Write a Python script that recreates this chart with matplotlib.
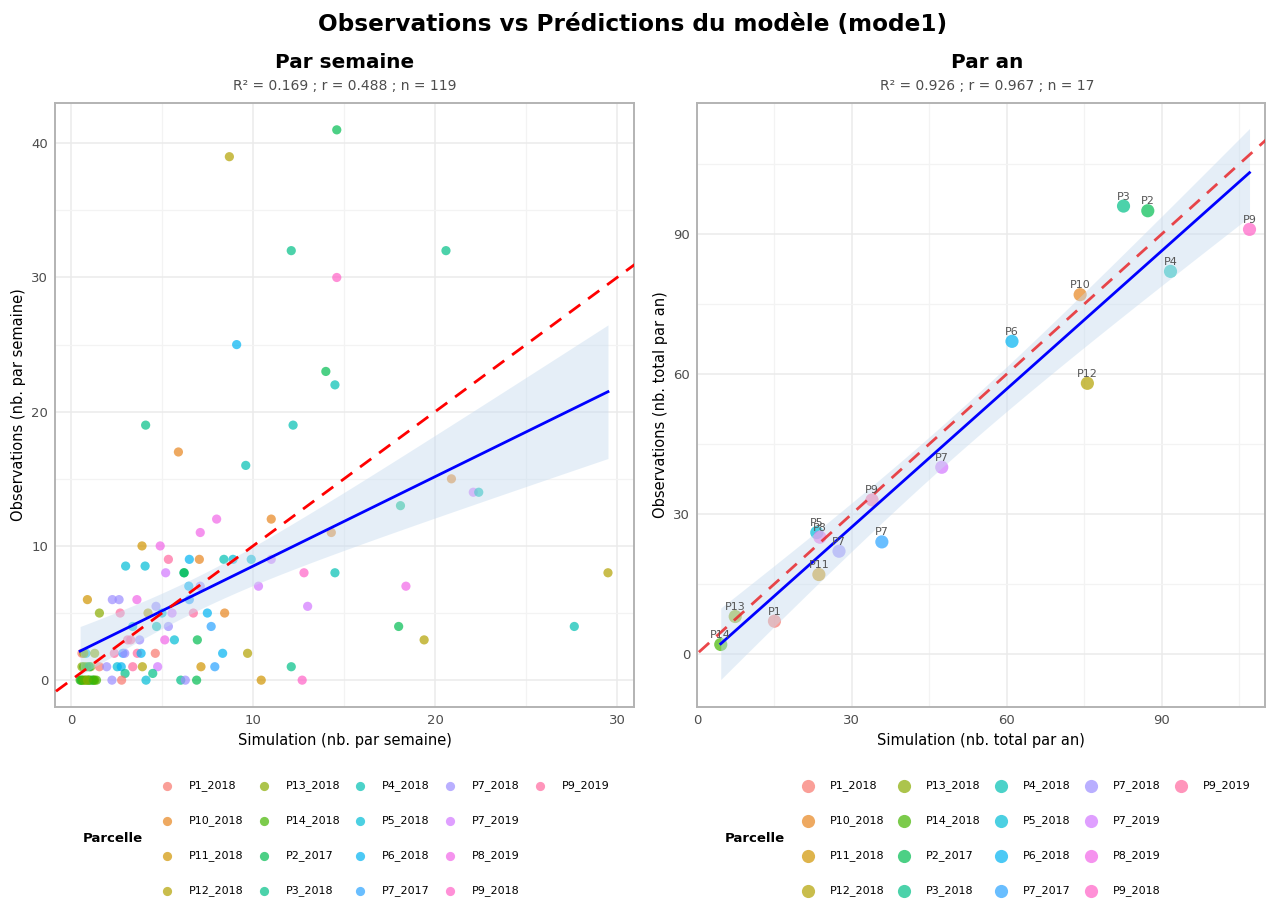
import numpy as np
import matplotlib
matplotlib.use("Agg")
import matplotlib.pyplot as plt

# ---------------- DATA ----------------
categories = ["P1_2018", "P10_2018", "P11_2018", "P12_2018", "P13_2018", "P14_2018",
              "P2_2017", "P3_2018", "P4_2018", "P5_2018", "P6_2018", "P7_2017",
              "P7_2018", "P7_2019", "P8_2019", "P9_2018", "P9_2019"]
palette = ["#F8766D", "#E7851E", "#D09400", "#B2A100", "#89AC00", "#45B500",
           "#00BC51", "#00C087", "#00C0B2", "#00BCD6", "#00B3F2", "#29A3FF",
           "#9C8DFF", "#D277FF", "#F166E8", "#FF61C7", "#FF689E"]

# weekly observations (simulation, observation, parcel)
week_sim = [14.6, 8.7, 12.1, 20.6, 14.6, 9.1, 14.0, 14.5, 4.1, 12.2, 5.9, 9.6, 20.9,
            22.1, 22.4, 18.1, 8.0, 11.0, 7.1, 14.3, 3.9, 4.9,
            5.35, 6.5, 7.05, 8.4, 8.9, 9.9, 11.0, 3.0, 4.07,
            5.2, 6.2, 6.22, 12.8, 14.5, 6.47, 7.1, 10.3, 18.4,
            0.9, 2.27, 2.64, 3.62, 6.5, 4.67, 13.0,
            1.56, 2.7, 4.23, 5.0, 5.55, 6.72, 7.49, 8.44,
            3.39, 4.7, 5.35, 7.7, 18.0, 27.65,
            3.11, 3.28, 3.77, 5.15, 5.68, 6.94, 19.4,
            0.6, 0.82, 1.3, 2.38, 2.85, 2.95, 3.64, 3.85, 4.63, 8.33, 9.7, 0.7,
            0.6, 0.86, 1.08, 1.56, 1.96, 2.54, 2.76, 3.39, 3.92, 4.76, 7.14, 7.9, 12.1, 0.7, 1.0,
            2.97, 4.49,
            0.5, 0.65, 0.8, 0.95, 1.1, 1.3, 2.25, 2.78, 4.12, 6.03, 6.28, 6.9, 10.45, 12.7,
            0.55, 0.75, 1.0, 1.2, 1.4, 0.6, 0.9, 1.25, 29.5]
week_obs = [41, 39, 32, 32, 30, 25, 23, 22, 19, 19, 17, 16, 15,
            14, 14, 13, 12, 12, 11, 11, 10, 10,
            9, 9, 9, 9, 9, 9, 9, 8.5, 8.5,
            8, 8, 8, 8, 8, 7, 7, 7, 7,
            6, 6, 6, 6, 6, 5.5, 5.5,
            5, 5, 5, 5, 5, 5, 5, 5,
            4, 4, 4, 4, 4, 4,
            3, 3, 3, 3, 3, 3, 3,
            2, 2, 2, 2, 2, 2, 2, 2, 2, 2, 2, 2,
            1, 1, 1, 1, 1, 1, 1, 1, 1, 1, 1, 1, 1, 1, 1,
            0.5, 0.5,
            0, 0, 0, 0, 0, 0, 0, 0, 0, 0, 0, 0, 0, 0,
            0, 0, 0, 0, 0, 0, 0, 0, 8]
week_parcel = ["P2_2017", "P12_2018", "P3_2018", "P3_2018", "P9_2018", "P6_2018", "P2_2017",
               "P4_2018", "P3_2018", "P4_2018", "P10_2018", "P4_2018", "P10_2018",
               "P7_2019", "P4_2018", "P3_2018", "P8_2019", "P10_2018", "P8_2019", "P10_2018",
               "P11_2018", "P8_2019",
               "P9_2019", "P6_2018", "P10_2018", "P4_2018", "P5_2018", "P5_2018", "P7_2019",
               "P5_2018", "P5_2018",
               "P7_2019", "P3_2018", "P2_2017", "P9_2018", "P4_2018", "P6_2018", "P7_2018",
               "P7_2019", "P8_2019",
               "P11_2018", "P7_2018", "P7_2018", "P8_2019", "P7_2017", "P7_2018", "P7_2019",
               "P13_2018", "P9_2019", "P12_2018", "P5_2018", "P7_2019", "P9_2019", "P6_2018",
               "P10_2018",
               "P5_2018", "P4_2018", "P7_2018", "P7_2017", "P2_2017", "P4_2018",
               "P9_2019", "P9_2019", "P7_2018", "P8_2019", "P5_2018", "P2_2017", "P12_2018",
               "P1_2018", "P5_2018", "P13_2018", "P9_2019", "P7_2017", "P7_2018", "P9_2019",
               "P6_2018", "P1_2018", "P6_2018", "P12_2018", "P13_2018",
               "P13_2018", "P14_2018", "P13_2018", "P1_2018", "P7_2018", "P5_2018", "P6_2018",
               "P9_2019", "P12_2018", "P7_2019", "P11_2018", "P7_2017", "P3_2018",
               "P14_2018", "P2_2017",
               "P3_2018", "P3_2018",
               "P14_2018", "P13_2018", "P14_2018", "P2_2017", "P14_2018", "P13_2018",
               "P7_2018", "P1_2018", "P5_2018", "P3_2018", "P7_2018", "P2_2017", "P11_2018",
               "P9_2018",
               "P2_2017", "P13_2018", "P14_2018", "P2_2017", "P14_2018", "P14_2018",
               "P13_2018", "P14_2018", "P12_2018"]

# annual totals
year_parcel = ["P1_2018", "P13_2018", "P14_2018", "P11_2018", "P5_2018", "P8_2019",
               "P7_2018", "P7_2017", "P9_2019", "P7_2019", "P6_2018", "P10_2018",
               "P12_2018", "P3_2018", "P2_2017", "P4_2018", "P9_2018"]
year_sim = [15.0, 7.4, 4.6, 23.6, 23.2, 23.8, 27.5, 35.8, 33.9, 47.4, 61.0, 74.2,
            75.6, 82.6, 87.3, 91.7, 107.0]
year_obs = [7, 8, 2, 17, 26, 25, 22, 24, 33, 40, 67, 77, 58, 96, 95, 82, 91]

title = "Observations vs Prédictions du modèle (mode1)"
titles = ["Par semaine", "Par an"]
subtitles = ["R² = 0.169 ; r = 0.488 ; n = 119", "R² = 0.926 ; r = 0.967 ; n = 17"]
xlabels = ["Simulation (nb. par semaine)", "Simulation (nb. total par an)"]
ylabels = ["Observations (nb. par semaine)", "Observations (nb. total par an)"]
week_ticks = [0, 10, 20, 30, 40]
year_ticks = [0, 30, 60, 90]

# ---------------- PLOT ----------------
W, H = 1266, 899
fig = plt.figure(figsize=(W / 100, H / 100), dpi=100)
plt.rcParams['font.family'] = ['DejaVu Sans']
cmap = dict(zip(categories, palette))


def fit_band(x, y, tval, xs):
    x = np.asarray(x, float)
    y = np.asarray(y, float)
    n = len(x)
    b, a = np.polyfit(x, y, 1)
    yhat = a + b * x
    s = np.sqrt(np.sum((y - yhat) ** 2) / (n - 2))
    se = s * np.sqrt(1.0 / n + (xs - x.mean()) ** 2 / np.sum((x - x.mean()) ** 2))
    fit = a + b * xs
    return fit, fit - tval * se, fit + tval * se


def style_axes(ax, ticks, minor):
    ax.set_facecolor("white")
    for sp in ax.spines.values():
        sp.set_color("#B3B3B3")
        sp.set_linewidth(1.4)
    ax.set_xticks(ticks)
    ax.set_yticks(ticks)
    ax.set_xticks(minor, minor=True)
    ax.set_yticks(minor, minor=True)
    ax.grid(True, which="major", color="#EBEBEB", lw=1.1, zorder=0)
    ax.grid(True, which="minor", color="#F3F3F3", lw=0.9, zorder=0)
    ax.set_axisbelow(True)
    ax.tick_params(which="both", length=0, pad=5, labelsize=9.5, labelcolor="#4D4D4D")


def left(px):
    return px / W


def bottom(py):
    return 1 - py / H


# left panel
axL = fig.add_axes([left(55), bottom(707), (634 - 55) / W, (707 - 103) / H])
style_axes(axL, week_ticks, [5, 15, 25, 35])
axL.set_xticks([0, 10, 20, 30])
axL.set_xticks([5, 15, 25], minor=True)
axL.set_xlim(-0.88, 30.93)
axL.set_ylim(-2.0, 43.0)
axL.scatter(week_sim, week_obs, c=[cmap[p] for p in week_parcel], s=44, alpha=0.7,
            linewidths=0, zorder=2)
xs = np.linspace(min(week_sim), max(week_sim), 100)
fit, lo, hi = fit_band(week_sim, week_obs, 1.980, xs)
axL.fill_between(xs, lo, hi, color="#c6dbef", alpha=0.45, lw=0, zorder=3)
axL.plot(xs, fit, color="blue", lw=2.0, zorder=4)
axL.plot([-5, 50], [-5, 50], color="red", lw=2.0, ls=(0, (5, 3.5)), zorder=5)

# right panel
axR = fig.add_axes([left(697), bottom(707), (1265 - 697) / W, (707 - 103) / H])
style_axes(axR, year_ticks, [15, 45, 75, 105])
axR.set_xlim(0, 110)
axR.set_ylim(-11.4, 118.1)
axR.scatter(year_sim, year_obs, c=[cmap[p] for p in year_parcel], s=90, alpha=0.7,
            linewidths=0, zorder=2)
for xv, yv, p in zip(year_sim, year_obs, year_parcel):
    axR.annotate(p.split("_")[0], (xv, yv), xytext=(0, 3.2), textcoords="offset points",
                 ha="center", va="bottom", fontsize=8, color="#555555", zorder=6)
xs2 = np.linspace(min(year_sim), max(year_sim), 100)
fit2, lo2, hi2 = fit_band(year_sim, year_obs, 2.131, xs2)
axR.fill_between(xs2, lo2, hi2, color="#c6dbef", alpha=0.45, lw=0, zorder=3)
axR.plot(xs2, fit2, color="blue", lw=2.0, zorder=4)
axR.plot([-20, 150], [-20, 150], color="#E8262A", alpha=0.85, lw=2.0, ls=(0, (5, 3.5)), zorder=5)

for ax, t, st, xl, yl in zip([axL, axR], titles, subtitles, xlabels, ylabels):
    ax.set_xlabel(xl, fontsize=10.5, labelpad=4)
    ax.set_ylabel(yl, fontsize=10.5, labelpad=4)

# titles
fig.text(0.5, 1 - 25 / H, title, ha="center", va="center", fontsize=16.7, fontweight="bold")
for cx, t, st in zip([345, 987], titles, subtitles):
    fig.text(cx / W, 1 - 62 / H, t, ha="center", va="center", fontsize=14.4, fontweight="bold")
    fig.text(cx / W, 1 - 86 / H, st, ha="center", va="center", fontsize=10, color="#4D4D4D")

# legends (manual, 4 rows column-major)
axLeg = fig.add_axes([0, 0, 1, 1], zorder=-1)
axLeg.set_xlim(0, W)
axLeg.set_ylim(H, 0)
axLeg.axis("off")
rows_y = [786, 821, 856, 891]
for title_x, col_x, msize in [(113, [167, 264, 360, 450, 540], 44),
                              (755, [808, 904, 1001, 1091, 1181], 90)]:
    axLeg.text(title_x, 839, "Parcelle", ha="center", va="center", fontsize=9.5,
               fontweight="bold")
    for i, (cat, colr) in enumerate(zip(categories, palette)):
        c, r = divmod(i, 4)
        axLeg.scatter([col_x[c]], [rows_y[r]], s=msize, color=colr, alpha=0.7, linewidths=0)
        axLeg.text(col_x[c] + 22, rows_y[r], cat, ha="left", va="center", fontsize=8)

fig.savefig("out.png", dpi=100)
